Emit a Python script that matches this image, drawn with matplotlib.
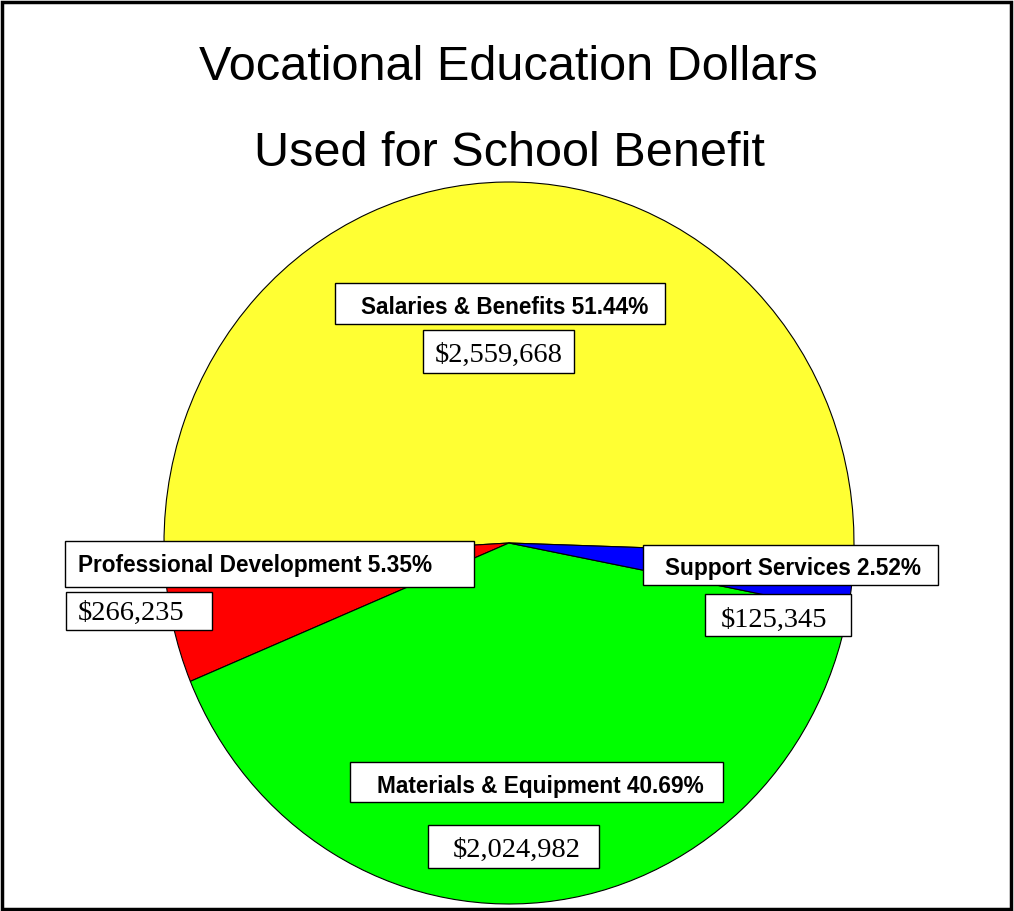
import matplotlib.pyplot as plt
from matplotlib.patches import Rectangle

categories = ["Salaries & Benefits", "Professional Development",
              "Materials & Equipment", "Support Services"]
amounts = [2559668, 266235, 2024982, 125345]
colors = ["#FFFF33", "#FF0000", "#00FF00", "#0000FF"]
title_lines = ["Vocational Education Dollars", "Used for School Benefit"]

# label layout in pixels (y from top): name box, name text, dollar box, dollar text
name_boxes = [(335, 283, 665, 324), (65, 541, 474, 587),
              (350, 762, 723, 802), (643, 545, 938, 585)]
name_text = [(361, 314), (78, 572), (377, 793), (665, 575)]
money_boxes = [(423, 330, 574, 373), (66, 592, 212, 630),
               (428, 825, 599, 868), (705, 594, 851, 636)]
money_text = [(435, 362), (78, 620), (453, 857), (721, 627)]

W, H = 1014, 911
fig = plt.figure(figsize=(W / 100, H / 100), dpi=100)
fig.patch.set_facecolor("white")

# pie is slightly taller than wide in the reference
cx, cy, rx, ry = 509, 543, 345, 361
ax = fig.add_axes([(cx - rx) / W, 1 - (cy + ry) / H, 2 * rx / W, 2 * ry / H])
ax.pie(amounts, colors=colors, startangle=-1.9, counterclock=True,
       wedgeprops=dict(edgecolor="black", linewidth=0.8))
ax.set_aspect("auto")
ax.set_xlim(-1, 1)
ax.set_ylim(-1, 1)
ax.axis("off")

# overlay in pixel coordinates for title, labels and frame
ov = fig.add_axes([0, 0, 1, 1])
ov.set_xlim(0, W)
ov.set_ylim(H, 0)
ov.axis("off")
ov.patch.set_alpha(0)

ov.text(508, 80, title_lines[0], ha="center", va="baseline",
        fontsize=35, family="Liberation Sans")
ov.text(509, 166, title_lines[1], ha="center", va="baseline",
        fontsize=35, family="Liberation Sans")

total = sum(amounts)
for i, name in enumerate(categories):
    pct = amounts[i] / total * 100
    x0, y0, x1, y1 = name_boxes[i]
    ov.add_patch(Rectangle((x0, y0), x1 - x0, y1 - y0, facecolor="white",
                           edgecolor="black", linewidth=1))
    ov.text(*name_text[i], f"{name} {pct:.2f}%", ha="left", va="baseline",
            fontsize=16.3, fontweight="bold", family="Liberation Sans")
    x0, y0, x1, y1 = money_boxes[i]
    ov.add_patch(Rectangle((x0, y0), x1 - x0, y1 - y0, facecolor="white",
                           edgecolor="black", linewidth=1))
    ov.text(*money_text[i], f"${amounts[i]:,}", ha="left", va="baseline",
            fontsize=20.5, family="Liberation Serif")

ov.add_patch(Rectangle((1.5, 1.5), W - 5, H - 4, facecolor="none",
                       edgecolor="black", linewidth=2.5))

fig.savefig("out.png", dpi=100)
